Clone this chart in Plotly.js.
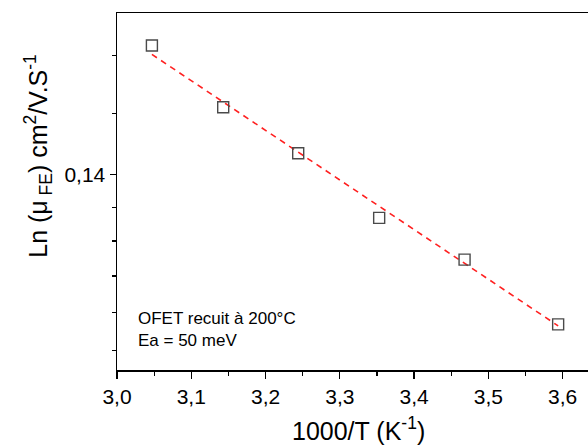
<!DOCTYPE html>
<html>
<head>
<meta charset="utf-8">
<script src="https://cdn.plot.ly/plotly-3.0.1.min.js"></script>
<style>
html,body{margin:0;padding:0;overflow:hidden;background:#fff;width:588px;height:446px;}
#chart{width:610px;height:446px;}
</style>
</head>
<body>
<div id="chart"></div>
<script>
// Data
const invT = [3.047, 3.143, 3.244, 3.353, 3.468, 3.594];
const mu = [0.1618, 0.1510, 0.1434, 0.1334, 0.1273, 0.1184];
const fitX = [3.047, 3.594];
const fitY = [0.1602, 0.1182];
const yTickVals = [0.14];
const yTickText = ['0,14'];
const yMinorVals = [0.115, 0.12, 0.125, 0.13, 0.135, 0.15, 0.16];
const xTickVals = [3.0, 3.1, 3.2, 3.3, 3.4, 3.5, 3.6];
const xTickText = ['3,0', '3,1', '3,2', '3,3', '3,4', '3,5', '3,6'];

const font = 'Liberation Sans, Arial, sans-serif';

const traces = [
  {
    x: fitX, y: fitY, type: 'scatter', mode: 'lines',
    line: {color: '#ff2020', width: 1.6, dash: '6px,5px'},
    hoverinfo: 'skip', showlegend: false
  },
  {
    x: invT, y: mu, type: 'scatter', mode: 'markers',
    marker: {symbol: 'square-open', size: 11, color: '#4a4a4a', line: {width: 1.4, color: '#4a4a4a'}},
    showlegend: false
  }
];

const layout = {
  width: 610, height: 446,
  margin: {l: 117, r: 11, t: 13, b: 76},
  paper_bgcolor: '#ffffff', plot_bgcolor: '#ffffff',
  font: {family: font, color: '#000'},
  xaxis: {
    range: [3.0, 3.649],
    tickmode: 'array', tickvals: xTickVals, ticktext: xTickText,
    ticks: 'outside', ticklen: 7, tickwidth: 1.2, tickcolor: '#000',
    minor: {tickmode: 'linear', tick0: 3.05, dtick: 0.1, ticks: 'outside', ticklen: 4, tickwidth: 1.2, tickcolor: '#000', showgrid: false},
    showline: true, linecolor: '#000', linewidth: 1.5, mirror: true,
    showgrid: false, zeroline: false,
    tickfont: {family: font, size: 21, color: '#000'}
  },
  yaxis: {
    type: 'log',
    range: [Math.log10(0.1125), Math.log10(0.1678)],
    tickmode: 'array', tickvals: yTickVals, ticktext: yTickText,
    ticks: 'outside', ticklen: 6, tickwidth: 1.2, tickcolor: '#000',
    minor: {tickmode: 'array', tickvals: yMinorVals, ticks: 'outside', ticklen: 4, tickwidth: 1.2, tickcolor: '#000', showgrid: false},
    showline: true, linecolor: '#000', linewidth: 1.5, mirror: true,
    showgrid: false, zeroline: false,
    tickfont: {family: font, size: 21, color: '#000'}
  },
  annotations: [
    {
      xref: 'paper', yref: 'paper', x: 0.04, y: 0.05,
      xanchor: 'left', yanchor: 'bottom', align: 'left', showarrow: false,
      text: 'OFET recuit à 200°C<br>Ea = 50 meV',
      font: {family: font, size: 17, color: '#000'}
    },
    {
      xref: 'paper', yref: 'paper', x: -0.164, y: 0.6,
      xanchor: 'center', yanchor: 'middle', textangle: -90, showarrow: false,
      text: 'Ln (μ<sub> FE</sub>) cm<sup>2</sup>/V.S<sup>-1</sup>',
      font: {family: font, size: 25, color: '#000'}
    },
    {
      xref: 'paper', yref: 'paper', x: 0.502, y: -0.165,
      xanchor: 'center', yanchor: 'middle', showarrow: false,
      text: '1000/T (K<sup>-1</sup>)',
      font: {family: font, size: 25, color: '#000'}
    }
  ]
};

Plotly.newPlot('chart', traces, layout, {displayModeBar: false, staticPlot: true});
</script>
</body>
</html>
